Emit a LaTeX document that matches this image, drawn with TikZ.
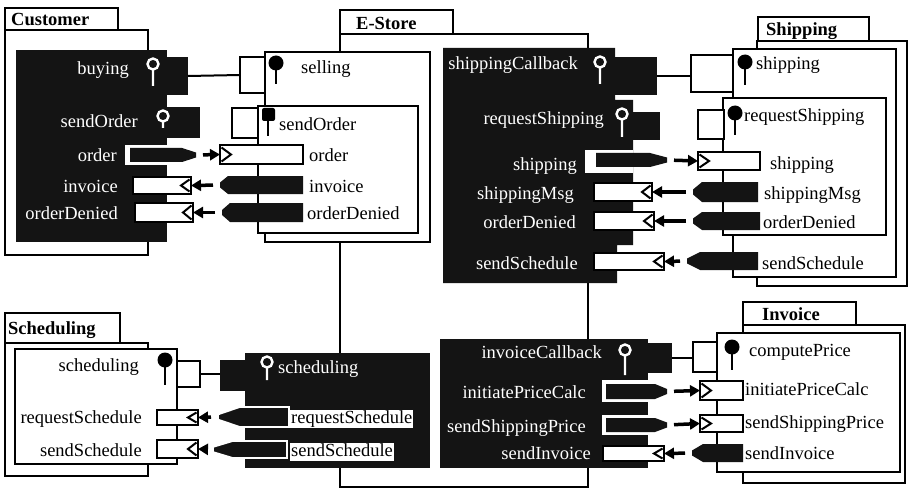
\documentclass[tikz,border=0pt]{standalone}
\usepackage{fontspec}
\setmainfont{Liberation Serif}
\usetikzlibrary{arrows.meta,fit}

\tikzset{
  box/.style={draw, line width=2pt, fill=white},
  blk/.style={fill=black!92},
  port/.style={draw, line width=2pt, fill=white, inner sep=0pt, outer sep=0pt},
  blkport/.style={fill=black!92, inner sep=0pt, outer sep=0pt},
  wire/.style={line width=2pt},
  flow/.style={line width=3.5pt, -{Triangle[length=10pt,width=11pt]}, shorten <=7pt},
  lbl/.style={inner sep=0pt, text height=12.5pt, text depth=0pt},
  wlbl/.style={lbl, text=white},
  pkgname/.style={inner sep=0pt, font=\fontsize{18.5}{22}\selectfont\bfseries, anchor=base west},
}

% black sending port with its tip
\newcommand\outport[7][]{%
  \pgfmathsetmacro\ym{(#4+#6)/2}
  \path[blk,#1] (#3,#4) -- (#5,#4) -- (#7,\ym-2.5) -- (#7,\ym+2.5) -- (#5,#6) -- (#3,#6) -- cycle;
  \coordinate (#2) at (#7,\ym);}
\newcommand\inport[5]{\node[port, fit={(#2,#3) (#4,#5)}] (#1) {};}
\newcommand\chevL[1]{\draw[wire] ([xshift=-1.5pt,yshift=-2.5pt]#1.north east) -- ([xshift=-10pt]#1.east) -- ([xshift=-1.5pt,yshift=2.5pt]#1.south east);}
\newcommand\chevR[1]{\draw[wire] ([xshift=1.5pt,yshift=-2.5pt]#1.north west) -- ([xshift=11pt]#1.west) -- ([xshift=1.5pt,yshift=2.5pt]#1.south west);}
\newcommand\lolB[3]{\fill (#1,#2) circle (7.5); \draw[line width=2.5pt] (#1,#2) -- (#1,#3);}
\newcommand\lolW[3]{\draw[white, line width=2.4pt] (#1,#2) circle (5.5) (#1,#2+5.5) -- (#1,#3);}

\begin{document}
\begin{tikzpicture}[x=1pt, y=-1pt, font=\fontsize{18.5}{22}\selectfont]
\useasboundingbox (0,0) rectangle (909,489);

% packages
\draw[box] (5,8) rectangle (118,30);
\node[pkgname] (customer) at (11,26) {Customer};
\draw[box] (5,30) rectangle (148,255);

\draw[box] (340,34) rectangle (588,487);
\draw[box] (340,10) rectangle (453,34);
\node[pkgname] (estore) at (356,30) {E-Store};

\draw[box] (758,17) rectangle (869,41);
\node[pkgname] (shipping) at (766,36) {Shipping};
\draw[box] (757,41) rectangle (907,286);
\draw[box] (733,49) rectangle (896,277);
\draw[box] (723,98) rectangle (886,235);

\draw[box] (5,313) rectangle (120,343);
\node[pkgname] (scheduling) at (8,334) {Scheduling};
\draw[box] (5,343) rectangle (148,476);
\draw[box] (15,349) rectangle (177,464);

\draw[box] (743,302) rectangle (856,325);
\node[pkgname] (invoice) at (762,320) {Invoice};
\draw[box] (743,325) rectangle (905,483);
\draw[box] (717,333) rectangle (900,472);

\draw[box] (265,52) rectangle (430,242);
\draw[box] (258,106) rectangle (418,233);

% Customer
\fill[blk] (16,50) rectangle (167,242);
\node[blkport, fit={(150,57) (188,95)}] (custBuying) {};
\node[blkport, fit={(160,107) (200,138)}] (custSendOrder) {};
\node[wlbl, anchor=east] (custBuyingLbl) at (129,68) {buying};
\node[wlbl, anchor=east] (custSendOrderLbl) at (138,121) {sendOrder};
\node[wlbl, anchor=east] (custOrderLbl) at (117,155) {order};
\node[wlbl, anchor=east] (custInvoiceLbl) at (118,186) {invoice};
\node[wlbl, anchor=east] (custDeniedLbl) at (118,213) {orderDenied};
\lolW{153}{64}{86}
\lolW{163}{116}{128}

% E-Store: selling
\node[port, fit={(240,57) (265,93)}] (storeSellingSq) {};
\node[port, fit={(232,108) (258,138)}] (storeSendOrderSq) {};
\draw[wire] (custBuying.east) -- (storeSellingSq.west);
\node[lbl, anchor=west] (storeSellingLbl) at (301,67) {selling};
\node[lbl, anchor=west] (storeSendOrderLbl) at (279,124) {sendOrder};
\node[lbl, anchor=west] (storeOrderLbl) at (309,155) {order};
\node[lbl, anchor=west] (storeInvoiceLbl) at (309,186) {invoice};
\node[lbl, anchor=west] (storeDeniedLbl) at (307,213) {orderDenied};
\lolB{276}{63}{84}
\fill[rounded corners=2pt] (262,108) rectangle (275,121);
\draw[line width=2.5pt] (268,115) -- (268,136);

\fill[white] (125,145) rectangle (183,165);
\outport{custOrderTip}{130}{148}{182}{162}{196}
\inport{storeOrderIn}{220}{145}{303}{164}
\chevR{storeOrderIn}
\draw[flow] (custOrderTip) -- (storeOrderIn.west);

\inport{custInvoiceIn}{133}{177}{191}{194}
\chevL{custInvoiceIn}
\outport{storeInvoiceTip}{303}{176}{228}{194}{220}
\draw[flow] (storeInvoiceTip) -- (custInvoiceIn.east);

\inport{custDeniedIn}{135}{203}{193}{222}
\chevL{custDeniedIn}
\outport{storeDeniedTip}{303}{203}{230}{222}{222}
\draw[flow] (storeDeniedTip) -- (custDeniedIn.east);

% E-Store: shipping side
\fill[blk] (443,48) -- (615,48) -- (615,100) -- (633,100) -- (633,245) -- (617,245) -- (617,283) -- (443,283) -- cycle;
\node[blkport, fit={(615,57) (657,95)}] (storeShipCb) {};
\node[blkport, fit={(633,112) (660,140)}] (storeReqShip) {};
\node[wlbl, anchor=east] (storeShipCbLbl) at (578,63) {shippingCallback};
\node[wlbl, anchor=east] (storeReqShipLbl) at (604,118) {requestShipping};
\node[wlbl, anchor=east] (storeShippingLbl) at (577,164) {shipping};
\node[wlbl, anchor=east] (storeMsgLbl) at (574,193) {shippingMsg};
\node[wlbl, anchor=east] (storeDenied2Lbl) at (576,222) {orderDenied};
\node[wlbl, anchor=east] (storeSchedLbl) at (578,263) {sendSchedule};
\lolW{600}{62}{84}
\lolW{622}{114}{137}

\node[port, fit={(691,55) (733,92)}] (shipShippingSq) {};
\node[port, fit={(698,110) (724,139)}] (shipReqSq) {};
\draw[wire] (storeShipCb.east) -- (storeShipCb.east -| shipShippingSq.west);
\node[lbl, anchor=west] (shipShippingLbl) at (756,63) {shipping};
\node[lbl, anchor=west] (shipReqLbl) at (744,115) {requestShipping};
\lolB{745}{62}{85}
\lolB{735}{113}{135}

\fill[white] (585,150) rectangle (633,173);
\outport{storeShipTip}{596}{153}{650}{167}{667}
\inport{shipShipIn}{698}{152}{760}{170}
\chevR{shipShipIn}
\draw[flow] (storeShipTip) -- (shipShipIn.west);
\node[lbl, anchor=west] (shipShipInLbl) at (770,163) {shipping};

\inport{storeMsgIn}{594}{183}{652}{201}
\chevL{storeMsgIn}
\outport{shipMsgTip}{758}{182}{702}{202}{693}
\draw[flow] (shipMsgTip) -- (storeMsgIn.east);
\node[lbl, anchor=west] (shipMsgLbl) at (764,193) {shippingMsg};

\inport{storeDenied2In}{594}{212}{654}{230}
\chevL{storeDenied2In}
\outport{shipDeniedTip}{760}{212}{702}{230}{693}
\draw[flow] (shipDeniedTip) -- (storeDenied2In.east);
\node[lbl, anchor=west] (shipDeniedLbl) at (763,222) {orderDenied};

\inport{storeSchedIn}{594}{253}{664}{270}
\chevL{storeSchedIn}
\outport{shipSchedTip}{758}{252}{700}{270}{687}
\draw[flow] (shipSchedTip) -- (storeSchedIn.east);
\node[lbl, anchor=west] (shipSchedLbl) at (762,263) {sendSchedule};

% E-Store: scheduling side
\fill[blk] (245,353) rectangle (430,468);
\node[blkport, fit={(220,360) (245,391)}] (storeSchedPort) {};
\node[port, fit={(177,361) (200,387)}] (schedSq) {};
\draw[wire] (schedSq.east) -- (schedSq.east -| storeSchedPort.west);
\node[lbl, anchor=east] (schedLbl) at (139,365) {scheduling};
\node[lbl, anchor=east] (schedReqLbl) at (142,417) {requestSchedule};
\node[lbl, anchor=east] (schedSendLbl) at (142,450) {sendSchedule};
\lolB{165}{360}{385}
\node[wlbl, anchor=west] (storeSchedPortLbl) at (278,367) {scheduling};
\lolW{267}{362}{380}

\inport{schedReqIn}{157}{410}{198}{425}
\chevL{schedReqIn}
\outport[draw=white, line width=1.6pt]{storeReqSchedTip}{289}{407}{240}{427}{218}
\draw[flow] (storeReqSchedTip) -- (schedReqIn.east);
\node[lbl, anchor=west, fill=white, inner sep=1pt, text depth=4pt] (storeReqSchedLbl) at (290,419) {requestSchedule};

\inport{schedSendIn}{157}{440}{198}{458}
\chevL{schedSendIn}
\outport[draw=white, line width=1.6pt]{storeSendSchedTip}{287}{441}{233}{458}{213}
\draw[flow] (storeSendSchedTip) -- (schedSendIn.east);
\node[lbl, anchor=west, fill=white, inner sep=1pt, text depth=4pt] (storeSendSchedLbl) at (290,452) {sendSchedule};

% E-Store: invoice side
\fill[blk] (440,339) rectangle (648,468);
\node[blkport, fit={(648,343) (672,373)}] (storeInvCb) {};
\node[port, fit={(693,342) (717,372)}] (invPriceSq) {};
\draw[wire] (storeInvCb.east) -- (storeInvCb.east -| invPriceSq.west);
\node[wlbl, anchor=east] (storeInvCbLbl) at (602,352) {invoiceCallback};
\node[wlbl, anchor=east] (storeInitLbl) at (586,392) {initiatePriceCalc};
\node[wlbl, anchor=east] (storePriceLbl) at (586,426) {sendShippingPrice};
\node[wlbl, anchor=east] (storeSendInvLbl) at (591,453) {sendInvoice};
\lolW{625}{350}{375}
\node[lbl, anchor=west] (invPriceLbl) at (749,350) {computePrice};
\lolB{732}{347}{370}

\fill[white] (602,380) rectangle (648,402);
\outport{storeInitTip}{606}{384}{655}{399}{667}
\inport{invInitIn}{700}{381}{743}{400}
\chevR{invInitIn}
\draw[flow] (storeInitTip) -- (invInitIn.west);
\node[lbl, anchor=west] (invInitLbl) at (745,389) {initiatePriceCalc};

\fill[white] (602,415) rectangle (648,435);
\outport{storePriceTip}{606}{418}{655}{432}{667}
\inport{invShipPriceIn}{700}{415}{743}{432}
\chevR{invShipPriceIn}
\draw[flow] (storePriceTip) -- (invShipPriceIn.west);
\node[lbl, anchor=west] (invShipPriceLbl) at (745,422) {sendShippingPrice};

\inport{storeSendInvIn}{603}{446}{664}{461}
\chevL{storeSendInvIn}
\outport{invSendTip}{743}{444}{703}{462}{692}
\draw[flow] (invSendTip) -- (storeSendInvIn.east);
\node[lbl, anchor=west] (invSendLbl) at (745,453) {sendInvoice};
\end{tikzpicture}
\end{document}
